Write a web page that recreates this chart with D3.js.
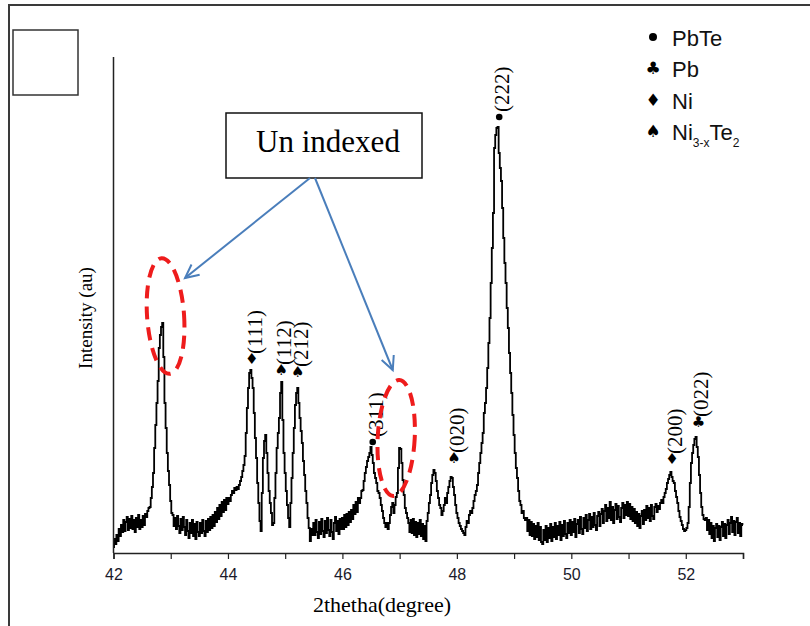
<!DOCTYPE html>
<html>
<head>
<meta charset="utf-8">
<script src="https://cdn.jsdelivr.net/npm/d3@7"></script>
<style>
  body { margin: 0; background: #fff; }
  svg { display: block; }
</style>
</head>
<body>
<svg id="chart" width="810" height="626"></svg>
<script>
// XRD scan: 2theta from 42 to 53 deg, 0.02 deg step, intensity in arbitrary units
const thetaStart = 42;
const thetaStep = 0.02;
const intensity = [
  6, 14, 9, 18, 12, 24, 17, 28, 21, 33, 22, 31, 36, 23, 34, 25, 37, 24, 33, 21, 35, 26, 38, 24, 33,
  26, 37, 28, 39, 36, 42, 45, 46, 55, 66, 80, 105, 128, 150, 172, 205, 218, 226, 230, 196, 150, 125, 100, 82, 68,
  52, 40, 38, 27, 35, 24, 37, 27, 20, 34, 23, 36, 26, 18, 33, 22, 15, 30, 20, 33, 17, 29, 14, 31, 21,
  17, 30, 20, 33, 22, 17, 32, 21, 34, 23, 36, 25, 38, 27, 41, 31, 45, 34, 48, 37, 51, 41, 53, 43, 55,
  49, 55, 52, 58, 62, 60, 65, 63, 66, 64, 68, 72, 76, 82, 88, 97, 120, 145, 165, 180, 183, 175, 165, 140, 115,
  95, 70, 50, 32, 22, 60, 95, 112, 118, 100, 80, 62, 50, 40, 28, 30, 55, 80, 105, 120, 135, 160, 171, 133, 100,
  80, 62, 48, 35, 26, 50, 75, 100, 125, 148, 160, 165, 150, 135, 122, 110, 92, 78, 62, 50, 35, 25, 12, 24, 18,
  30, 18, 33, 21, 15, 31, 19, 34, 22, 16, 32, 20, 35, 23, 17, 33, 21, 14, 30, 36, 22, 32, 19, 34, 24,
  35, 24, 38, 26, 39, 28, 41, 31, 43, 34, 48, 39, 51, 41, 55, 50, 55, 62, 63, 72, 80, 86, 92, 96, 100,
  106, 98, 90, 80, 75, 70, 62, 60, 55, 48, 42, 35, 30, 26, 30, 24, 30, 38, 46, 50, 40, 48, 56, 60, 85,
  105, 104, 90, 73, 58, 45, 40, 35, 30, 21, 33, 20, 34, 18, 31, 16, 30, 19, 33, 17, 29, 14, 27, 12, 32,
  40, 50, 58, 70, 78, 83, 80, 72, 62, 55, 48, 45, 38, 42, 48, 55, 50, 60, 66, 72, 76, 75, 66, 58, 48,
  40, 35, 30, 27, 24, 22, 20, 18, 26, 32, 30, 38, 42, 40, 45, 52, 58, 62, 68, 80, 90, 100, 110, 120, 140,
  150, 165, 185, 210, 235, 270, 305, 340, 405, 418, 425, 426, 400, 385, 372, 345, 315, 290, 270, 245, 225, 200, 180, 160, 138,
  118, 100, 85, 75, 62, 52, 48, 40, 42, 35, 33, 35, 22, 33, 18, 31, 17, 29, 14, 27, 16, 30, 13, 26, 11,
  9, 23, 13, 27, 11, 25, 15, 29, 12, 26, 16, 30, 14, 27, 18, 31, 13, 28, 17, 32, 19, 15, 30, 20, 33,
  18, 31, 21, 34, 16, 29, 33, 20, 36, 24, 19, 35, 25, 38, 22, 33, 39, 24, 36, 26, 40, 28, 23, 37, 41,
  27, 39, 44, 30, 42, 48, 32, 45, 35, 51, 33, 46, 30, 43, 49, 34, 47, 36, 31, 45, 50, 35, 48, 38, 51,
  37, 49, 34, 46, 32, 44, 30, 41, 27, 39, 25, 37, 42, 29, 43, 33, 47, 35, 45, 32, 48, 37, 34, 46, 49,
  41, 47, 44, 50, 53, 50, 56, 60, 64, 70, 74, 78, 81, 76, 72, 70, 62, 56, 50, 42, 36, 32, 28, 24, 22,
  23, 25, 30, 46, 70, 90, 100, 108, 114, 116, 106, 96, 78, 60, 46, 38, 34, 33, 35, 23, 33, 19, 30, 15, 27,
  12, 25, 29, 16, 27, 13, 26, 31, 17, 29, 15, 28, 33, 19, 30, 36, 21, 32, 18, 31, 35, 20, 30, 17, 29,
  28
];

const xTicks = [42, 43, 44, 45, 46, 47, 48, 49, 50, 51, 52, 53];
const xTickLabels = [42, 44, 46, 48, 50, 52];

// indexed reflections
const peakHkl = ['(111)', '(112)', '(212)', '(311)', '(020)', '(222)', '(200)', '(022)'];
const peakPhase = ['Ni', 'Ni3Te2', 'Ni3Te2', 'PbTe', 'Ni3Te2', 'PbTe', 'Ni', 'Pb'];
const peakTheta = [44.415, 44.93, 45.22, 46.53, 47.95, 48.74, 51.76, 52.22];
const peakMarkY = [194, 183, 181, 111, 95, 436, 94, 131];

const legendPhases = ['PbTe', 'Pb', 'Ni', 'Ni3Te2'];

// un-indexed peaks (dashed ellipses) and arrow targets
const unindexedTheta = [42.91, 46.94];
const unindexedY = [237, 115];
const arrowTheta = [43.25, 46.88];
const arrowY = [275, 183];

const symbolGlyph = { Pb: '\u2663', Ni: '\u2666', Ni3Te2: '\u2660' };

const svg = d3.select('#chart');
svg.append('rect').attr('width', 810).attr('height', 626).attr('fill', '#fff');

// outer frame and the empty box top left
svg.append('rect')
  .attr('x', 9).attr('y', 5).attr('width', 900).attr('height', 700)
  .attr('fill', 'none').attr('stroke', '#3a3a3a').attr('stroke-width', 2);
svg.append('rect')
  .attr('x', 13).attr('y', 30).attr('width', 65).attr('height', 65)
  .attr('fill', 'none').attr('stroke', '#333').attr('stroke-width', 1.5);

const x = d3.scaleLinear().domain([42, 53]).range([113.5, 743]);
const y = d3.scaleLinear().domain([0, 496]).range([553, 57]);

const pts = intensity.map((v, i) => ({ t: thetaStart + i * thetaStep, v }));

const line = d3.line()
  .x((d) => x(d.t))
  .y((d) => y(d.v))
  .curve(d3.curveStep);

svg.append('path')
  .datum(pts)
  .attr('d', line)
  .attr('fill', 'none')
  .attr('stroke', '#000')
  .attr('stroke-width', 1.8);

// axes
const xAxis = svg.append('g')
  .attr('transform', `translate(0,${y(0)})`)
  .call(d3.axisBottom(x).tickValues(xTicks).tickSize(6).tickFormat((d) => (xTickLabels.includes(d) ? d : '')));
xAxis.select('.domain').attr('stroke', '#222').attr('stroke-width', 1.5);
xAxis.selectAll('.tick line').attr('stroke', '#222').attr('stroke-width', 1.2);
xAxis.selectAll('.tick text')
  .attr('font-family', '"Liberation Sans", Arial, sans-serif')
  .attr('font-size', 16)
  .attr('fill', '#1a1a2a')
  .attr('dy', '1.15em');

svg.append('line')
  .attr('x1', x(42)).attr('x2', x(42))
  .attr('y1', y(0)).attr('y2', y(496))
  .attr('stroke', '#222').attr('stroke-width', 1.5);

svg.append('text')
  .attr('x', 382).attr('y', 612)
  .attr('text-anchor', 'middle')
  .attr('font-family', '"Liberation Serif", "Times New Roman", serif')
  .attr('font-size', 22)
  .text('2thetha(degree)');

svg.append('text')
  .attr('transform', 'translate(92,318) rotate(-90)')
  .attr('text-anchor', 'middle')
  .attr('font-family', '"Liberation Serif", "Times New Roman", serif')
  .attr('font-size', 19)
  .attr('fill', '#000')
  .text('Intensity (au)');

// peak markers + hkl labels
function drawMark(g, phase, cx, cy, big) {
  if (phase === 'PbTe') {
    g.append('circle').attr('cx', cx).attr('cy', cy).attr('r', big ? 4 : 3.3).attr('fill', '#000');
  } else {
    g.append('text')
      .attr('x', cx).attr('y', cy)
      .attr('text-anchor', 'middle')
      .attr('dominant-baseline', 'central')
      .attr('font-family', '"DejaVu Sans", sans-serif')
      .attr('font-size', big ? 17 : 15)
      .attr('fill', '#000')
      .text(symbolGlyph[phase]);
  }
}

const labelG = svg.append('g');
peakHkl.forEach((hkl, i) => {
  const cx = x(peakTheta[i]);
  const cy = y(peakMarkY[i]);
  drawMark(labelG, peakPhase[i], cx, cy, false);
  labelG.append('text')
    .attr('transform', `translate(${cx + 3},${cy - 5}) rotate(-90)`)
    .attr('dominant-baseline', 'central')
    .attr('font-family', '"Liberation Serif", "Times New Roman", serif')
    .attr('font-size', 21)
    .text(hkl);
});

// legend
const legendG = svg.append('g');
const legendFont = '"Liberation Sans", Arial, sans-serif';
legendPhases.forEach((p, i) => {
  const base = 46 + i * 31.3;
  drawMark(legendG, p, 653, base - 9, true);
  const t = legendG.append('text')
    .attr('x', 672).attr('y', base)
    .attr('font-family', legendFont)
    .attr('font-size', 22)
    .attr('fill', '#111');
  if (p === 'Ni3Te2') {
    t.append('tspan').text('Ni');
    t.append('tspan').attr('font-size', 12).attr('dy', 7).text('3-x');
    t.append('tspan').attr('dy', -7).text('Te');
    t.append('tspan').attr('font-size', 12).attr('dy', 7).text('2');
  } else {
    t.text(p);
  }
});

// un-indexed annotation
const annG = svg.append('g');
unindexedTheta.forEach((t, i) => {
  const cx = x(t);
  const cy = y(unindexedY[i]);
  annG.append('ellipse')
    .attr('transform', `translate(${cx},${cy}) rotate(${i === 0 ? -4 : 3})`)
    .attr('rx', 18.5).attr('ry', 58)
    .attr('fill', 'none')
    .attr('stroke', '#ee1c1c')
    .attr('stroke-width', 4)
    .attr('stroke-dasharray', '13,8');
});

annG.append('rect')
  .attr('x', 226).attr('y', 113).attr('width', 196).attr('height', 65)
  .attr('fill', '#fff').attr('stroke', '#111').attr('stroke-width', 1.5);
annG.append('text')
  .attr('x', 328).attr('y', 152)
  .attr('text-anchor', 'middle')
  .attr('font-family', '"Liberation Serif", "Times New Roman", serif')
  .attr('font-size', 31)
  .text('Un indexed');

const arrowStart = [[310, 178], [315, 178]];
arrowTheta.forEach((t, i) => {
  const [sx, sy] = arrowStart[i];
  const ex = x(t);
  const ey = y(arrowY[i]);
  const ang = Math.atan2(ey - sy, ex - sx);
  const L = 15;
  const spread = 0.45;
  annG.append('line')
    .attr('x1', sx).attr('y1', sy).attr('x2', ex).attr('y2', ey)
    .attr('stroke', '#4a7ebb').attr('stroke-width', 2);
  annG.append('path')
    .attr('d', `M${ex - L * Math.cos(ang - spread)},${ey - L * Math.sin(ang - spread)}L${ex},${ey}L${ex - L * Math.cos(ang + spread)},${ey - L * Math.sin(ang + spread)}`)
    .attr('fill', 'none')
    .attr('stroke', '#4a7ebb')
    .attr('stroke-width', 2);
});
</script>
</body>
</html>
